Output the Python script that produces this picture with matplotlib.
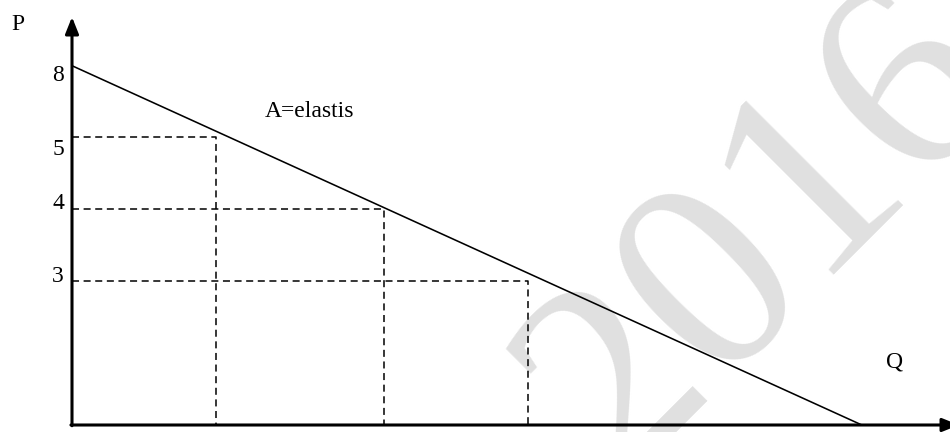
import matplotlib
matplotlib.use("Agg")
import matplotlib.pyplot as plt

# ---- data (schematic demand diagram) ----
price_labels = ['8', '5', '4', '3']
price_levels = [4.99, 4.0, 3.0, 2.0]          # vertical position of each price on the drawing
label_offsets = [-0.13, -0.17, 0.08, 0.06]    # small layout nudges of the printed labels
dash_prices = [4.0, 3.0, 2.0]                 # levels with a dashed rectangle (5, 4, 3)
dash_quantities = [2.0, 4.33, 6.33]           # matching quantities
demand_p0 = 4.99                              # price intercept (P = 8)
demand_q0 = 10.97                             # quantity intercept
curve_label = 'A=elastis'
x_label = 'Q'
y_label = 'P'
watermark = '2016'

# ---- figure ----
W, H, DPI = 9.5, 4.32, 100
fig = plt.figure(figsize=(W, H), dpi=DPI)
ax = fig.add_axes([0, 0, 1, 1])
unit = 72.0
ox, oy = 72.0, 425.0
ax.set_xlim(-ox / unit, (950 - ox) / unit)
ax.set_ylim((oy - 432) / unit, oy / unit)
ax.axis('off')

serif = ['Liberation Serif', 'DejaVu Serif']
fs = 17

# watermark
ax.text(9.64, 2.64, watermark, fontsize=201, family=serif, color='#e0e0e0',
        rotation=45, rotation_mode='anchor', ha='center', va='center', zorder=0)

# axes with arrows
arrow_kw = dict(arrowstyle='-|>,head_length=0.5,head_width=0.2', lw=2.2, color='black',
                shrinkA=0, shrinkB=0, mutation_scale=20)
ax.annotate('', xy=(0, 5.667), xytext=(0, -0.01), arrowprops=arrow_kw, annotation_clip=False, zorder=5)
ax.annotate('', xy=(12.32, 0), xytext=(-0.015, 0), arrowprops=arrow_kw, annotation_clip=False, zorder=5)

# demand line
ax.plot([0, demand_q0], [demand_p0, 0], color='black', lw=1.15, zorder=3,
        solid_capstyle='butt')

# dashed rectangles
for q, p in zip(dash_quantities, dash_prices):
    ax.plot([0, q, q], [p, p, 0], color='black', lw=1.1, dashes=(4.6, 3.0), zorder=2)

# price labels
for lab, lev, off in zip(price_labels, price_levels, label_offsets):
    ax.text(-0.11, lev + off, lab, fontsize=fs, family=serif, ha='right', va='center')

ax.text(-0.75, 5.56, y_label, fontsize=fs, family=serif, ha='center', va='center')
ax.text(11.43, 0.875, x_label, fontsize=fs, family=serif, ha='center', va='center')
ax.text(2.68, 4.35, curve_label, fontsize=fs, family=serif, ha='left', va='center')

fig.savefig('out.png', dpi=DPI)
